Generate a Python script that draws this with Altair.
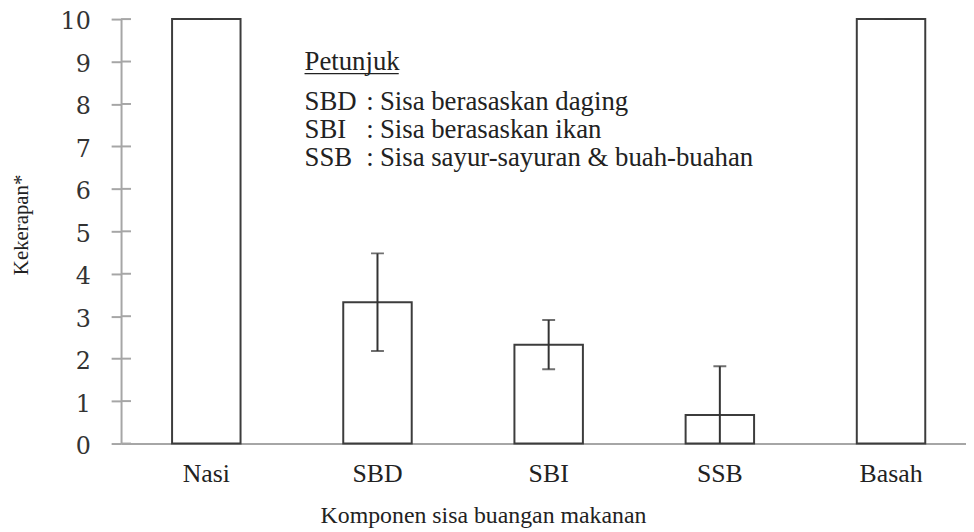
import altair as alt
import pandas as pd

# ---- data ----
categories = ["Nasi", "SBD", "SBI", "SSB", "Basah"]
means = [10, 3.33, 2.33, 0.67, 10]
sds = [0, 1.15, 0.58, 1.15, 0]
y_ticks = list(range(0, 11))

legend_title = ["Petunjuk"]
legend_abbr = ["SBD", "SBI", "SSB"]
legend_desc = ["Sisa berasaskan daging", "Sisa berasaskan ikan",
               "Sisa sayur-sayuran & buah-buahan"]

# ---- layout constants (pixels inside plot area) ----
W, H = 852, 428
legend_rows_px = [92, 120, 148]
legend_title_px = 51

df = pd.DataFrame({"cat": categories, "mean": means, "sd": sds})
df["lo"] = df["mean"] - df["sd"]
df["hi"] = df["mean"] + df["sd"]

SERIF = "Liberation Serif, Times New Roman, serif"
AXIS_GRAY = "#a6a6a6"

x_scale = alt.Scale(domain=categories, paddingInner=0.6, paddingOuter=0.268,
                    align=0.556, round=False)
y_scale = alt.Scale(domain=[0, 10], nice=False, zero=True)

x_axis = alt.Axis(
    title="Komponen sisa buangan makanan", labelAngle=0, ticks=False,
    labelPadding=17, labelFont=SERIF, labelFontSize=26, labelColor="#222",
    titleFont=SERIF, titleFontSize=24, titleFontWeight="normal", titleColor="#222",
    titleX=365, titleY=80, titleBaseline="alphabetic", titleAlign="center",
    domainColor=AXIS_GRAY, domainWidth=2, grid=False,
)
y_axis = alt.Axis(
    title="Kekerapan*", values=y_ticks, tickSize=10, tickColor=AXIS_GRAY, tickWidth=2,
    domainColor=AXIS_GRAY, domainWidth=2, grid=False,
    labelFont="DejaVu Serif", labelFontSize=24, labelColor="#333", labelPadding=21,
    labelOffset=3, labelFlush=False, labelOverlap=False,
    titleFont=SERIF, titleFontSize=21, titleFontWeight="normal", titleColor="#222",
    titleX=-94, titleY=207, titleBaseline="alphabetic", titleAlign="center",
)

base = alt.Chart(df)
x_enc = alt.X("cat:N", scale=x_scale, sort=categories, axis=x_axis)

bars = base.mark_bar(fill="white", stroke="#3c3c3c", strokeWidth=2).encode(
    x=x_enc, y=alt.Y("mean:Q", scale=y_scale, axis=y_axis)
)
err = base.mark_rule(color="#333333", strokeWidth=2, clip=True).encode(
    x=alt.X("cat:N", sort=categories), y=alt.Y("lo:Q"), y2="hi:Q"
)
cap_hi = base.mark_tick(color="#333333", thickness=2, size=13, orient="horizontal",
                        clip=True).encode(x=alt.X("cat:N", sort=categories), y=alt.Y("hi:Q"))
cap_lo = base.mark_tick(color="#333333", thickness=2, size=13, orient="horizontal",
                        clip=True).encode(x=alt.X("cat:N", sort=categories), y=alt.Y("lo:Q"))

right_ticks = alt.Chart(pd.DataFrame({"t": y_ticks})).mark_rule(
    color=AXIS_GRAY, strokeWidth=2
).encode(y=alt.Y("t:Q"), x=alt.value(0), x2=alt.value(10))

TXT = dict(font=SERIF, fontSize=27, color="#222", baseline="alphabetic")

leg_df = pd.DataFrame({"abbr": legend_abbr, "desc": legend_desc, "ypx": legend_rows_px})
leg_base = alt.Chart(leg_df)
leg_abbr = leg_base.mark_text(align="left", **TXT).encode(
    x=alt.value(185), y=alt.Y("ypx:Q", scale=None), text="abbr:N")
leg_colon = leg_base.mark_text(align="center", text=":", **TXT).encode(
    x=alt.value(251), y=alt.Y("ypx:Q", scale=None))
leg_desc = leg_base.mark_text(align="left", **TXT).encode(
    x=alt.value(261), y=alt.Y("ypx:Q", scale=None), text="desc:N")

title_df = pd.DataFrame({"t": legend_title})
leg_title = alt.Chart(title_df).mark_text(align="left", **TXT).encode(
    x=alt.value(185), y=alt.value(legend_title_px), text="t:N")
leg_underline = alt.Chart(title_df).mark_rule(color="#222", strokeWidth=1.2).encode(
    x=alt.value(185), x2=alt.value(280), y=alt.value(legend_title_px + 4))

chart = alt.layer(
    bars, err, cap_hi, cap_lo, right_ticks,
    leg_title, leg_underline, leg_abbr, leg_colon, leg_desc
).properties(
    width=W, height=H,
    background="white",
    autosize=alt.AutoSizeParams(type="none"),
    padding={"left": 114, "top": 9, "right": 0, "bottom": 84},
).configure_view(stroke=None).configure_text(font=SERIF)

chart.save("out.html", embed_options={"renderer": "svg", "actions": False})
